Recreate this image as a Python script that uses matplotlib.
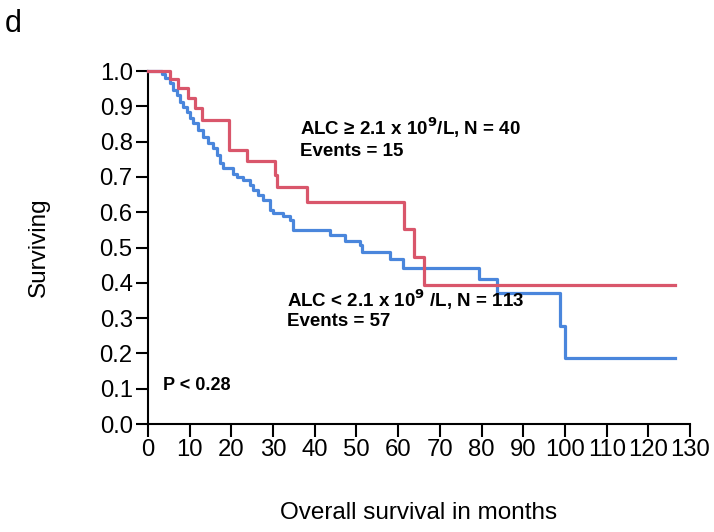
import matplotlib
matplotlib.use("Agg")
import matplotlib.pyplot as plt

plt.rcParams['font.family'] = ['Liberation Sans', 'DejaVu Sans']

# High ALC group (red): step times (months) and survival after each step
hi_times = [0, 5.3, 7.3, 9.7, 11.3, 12.9, 19.5, 23.7, 30.5, 31.0, 38.1, 61.3, 63.7, 66.1, 126.5]
hi_surv = [1.0, 0.977, 0.951, 0.923, 0.895, 0.861, 0.776, 0.745, 0.705, 0.672, 0.630, 0.552, 0.474, 0.394, 0.394]

# Low ALC group (blue)
lo_times = [0, 3.3, 4.1, 5.3, 6.1, 6.9, 7.7, 8.5, 9.3, 10.1, 10.9, 12.1, 13.3, 14.5, 15.7, 16.5,
            17.3, 18.1, 20.5, 21.3, 22.9, 24.5, 25.3, 26.5, 27.7, 29.3, 30.0, 32.4, 34.1, 34.8,
            43.7, 47.3, 50.9, 51.3, 58.1, 61.2, 79.5, 83.6, 98.8, 100.1, 126.5]
lo_surv = [1.0, 0.992, 0.979, 0.965, 0.946, 0.932, 0.913, 0.899, 0.885, 0.866, 0.852, 0.833, 0.814,
           0.795, 0.781, 0.762, 0.739, 0.724, 0.708, 0.700, 0.691, 0.677, 0.663, 0.649, 0.635,
           0.606, 0.598, 0.588, 0.578, 0.550, 0.535, 0.519, 0.507, 0.486, 0.467, 0.443, 0.410,
           0.370, 0.278, 0.186, 0.186]

x_ticks = list(range(0, 131, 10))
y_ticks = [i / 10 for i in range(0, 11)]

fig = plt.figure(figsize=(7.14, 5.32), dpi=100)
ax = fig.add_axes([0.2073, 0.203, 0.7591, 0.6635])

red = '#d9566b'
blue = '#4a86dc'
ax.step(lo_times, lo_surv, where='post', color=blue, lw=2.3, clip_on=False, zorder=3)
ax.step(hi_times, hi_surv, where='post', color=red, lw=2.3, clip_on=False, zorder=3)

ax.set_xlim(0, 130)
ax.set_ylim(0, 1.0)
ax.set_xticks(x_ticks)
ax.set_yticks(y_ticks)
ax.set_yticklabels([f"{v:.1f}" for v in y_ticks])
for s in ['top', 'right']:
    ax.spines[s].set_visible(False)
for s in ['left', 'bottom']:
    ax.spines[s].set_linewidth(1.5)
ax.tick_params(axis='both', direction='out', length=9, width=1.5, labelsize=17.2, pad=2)

ax.set_ylabel('Surviving', fontsize=17.5, labelpad=36)
ax.set_xlabel('Overall survival in months', fontsize=17.5, labelpad=29)

txt = dict(fontsize=13.5, fontweight='bold', va='center')
ax.text(36.5, 0.838, 'ALC \u2265 2.1 x 10$^{\\mathbf{9}}$/L, N = 40', **txt)
ax.text(36.5, 0.771, 'Events = 15', **txt)
ax.text(33.3, 0.352, 'ALC < 2.1 x 10$^{\\mathbf{9}}$ /L, N = 113', **txt)
ax.text(33.3, 0.289, 'Events = 57', **txt)
ax.text(3.7, 0.11, 'P < 0.28', fontsize=13, fontweight='bold', va='center')

fig.text(0.007, 0.955, 'd', fontsize=22, va='center')

fig.savefig('out.png', dpi=100)
